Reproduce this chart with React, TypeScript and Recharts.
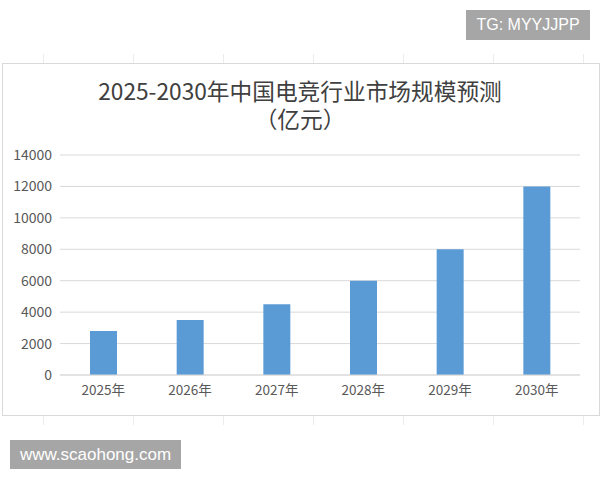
import React from "react";
import { BarChart, Bar, XAxis, YAxis, CartesianGrid } from "recharts";

const YEARS = ["2025年", "2026年", "2027年", "2028年", "2029年", "2030年"];
const MARKET_SIZE = [2800, 3500, 4500, 6000, 8000, 12000]; // 亿元
const Y_TICKS = [0, 2000, 4000, 6000, 8000, 10000, 12000, 14000];
const SHEET_COLS = [43, 133, 223, 313, 403, 493, 583];

const FONT = '"Noto Sans CJK SC", "Noto Sans", sans-serif';
const TAG_FONT = '"Liberation Sans", Arial, sans-serif';

const data = YEARS.map((year, i) => ({ year, value: MARKET_SIZE[i] }));

const titleLine = (top: number): React.CSSProperties => ({
  position: "absolute",
  left: 0,
  top,
  width: 600,
  textAlign: "center",
  color: "#404040",
  fontSize: 22.7,
  lineHeight: "24px",
  whiteSpace: "nowrap",
});

export default function App() {
  return (
    <div
      style={{
        position: "absolute",
        left: 0,
        top: 0,
        width: 600,
        height: 480,
        background: "#fff",
        fontFamily: FONT,
        overflow: "hidden",
      }}
    >
      {/* faint spreadsheet column lines above / below the chart */}
      {SHEET_COLS.map((x) => (
        <React.Fragment key={x}>
          <div style={{ position: "absolute", left: x, top: 54, width: 1, height: 9, background: "#ececec" }} />
          <div style={{ position: "absolute", left: x, top: 416, width: 1, height: 9, background: "#ececec" }} />
        </React.Fragment>
      ))}

      {/* chart frame */}
      <div
        style={{
          position: "absolute",
          left: 2,
          top: 63,
          width: 596,
          height: 351,
          border: "1px solid #d9d9d9",
          background: "#fff",
        }}
      />

      <div style={titleLine(79)}>2025-2030年中国电竞行业市场规模预测</div>
      <div style={titleLine(107)}>（亿元）</div>

      <div style={{ position: "absolute", left: 2, top: 63 }}>
        <BarChart
          width={597}
          height={352}
          data={data}
          margin={{ top: 92, right: 19, bottom: 0, left: 0 }}
        >
          <CartesianGrid vertical={false} stroke="#d9d9d9" />
          <XAxis
            dataKey="year"
            height={40}
            tickLine={false}
            axisLine={{ stroke: "#d9d9d9" }}
            tickMargin={4}
            tick={{ fill: "#595959", fontSize: 13.5, fontFamily: FONT }}
          />
          <YAxis
            width={58}
            domain={[0, 14000]}
            ticks={Y_TICKS}
            interval={0}
            tickLine={false}
            axisLine={false}
            tick={{ fill: "#595959", fontSize: 14, fontFamily: FONT }}
          />
          <Bar dataKey="value" fill="#5b9bd5" barSize={27} isAnimationActive={false} />
        </BarChart>
      </div>

      {/* overlay tags */}
      <div
        style={{
          position: "absolute",
          left: 466,
          top: 10,
          width: 124,
          height: 30,
          background: "#a6a6a6",
          color: "#fff",
          fontFamily: TAG_FONT,
          fontSize: 16,
          lineHeight: "30px",
          textAlign: "center",
        }}
      >
        TG: MYYJJPP
      </div>
      <div
        style={{
          position: "absolute",
          left: 10,
          top: 440,
          width: 171,
          height: 29,
          background: "#a6a6a6",
          color: "#fff",
          fontFamily: TAG_FONT,
          fontSize: 17,
          lineHeight: "29px",
          textAlign: "center",
        }}
      >
        www.scaohong.com
      </div>
    </div>
  );
}
